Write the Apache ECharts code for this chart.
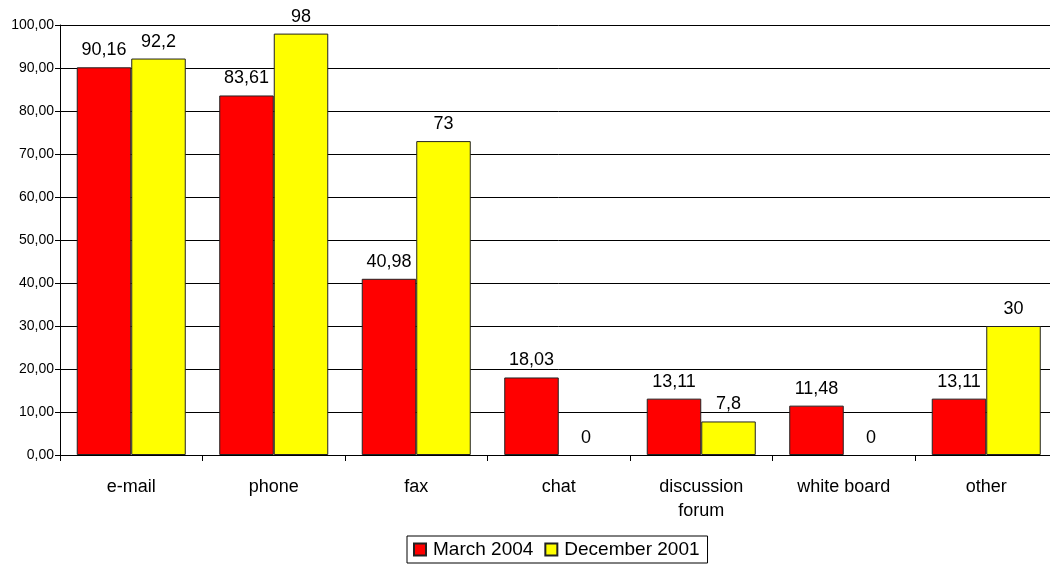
<!DOCTYPE html>
<html>
<head>
<meta charset="utf-8">
<script src="https://cdn.jsdelivr.net/npm/echarts@6/dist/echarts.min.js"></script>
<style>
  html, body { margin: 0; padding: 0; background: #fff; overflow: hidden; }
  /* plot runs slightly past the right edge of the window */
  #chart { width: 1058px; height: 565px; }
</style>
</head>
<body>
<div id="chart"></div>
<script>
// Communication channels used, two survey rounds
const categories = ['e-mail', 'phone', 'fax', 'chat', 'discussion\nforum', 'white board', 'other'];
const march2004 = [90.16, 83.61, 40.98, 18.03, 13.11, 11.48, 13.11];
const december2001 = [92.2, 98, 73, 0, 7.8, 0, 30];
const seriesNames = ['March 2004', 'December 2001'];

const FONT = '"Liberation Sans", Arial, sans-serif';
const commaNum = v => String(v).replace('.', ',');

// zero-height bars get no outline
const toItems = arr => arr.map(v => v === 0 ? { value: v, itemStyle: { borderWidth: 0 } } : v);

const chart = echarts.init(document.getElementById('chart'), null, { renderer: 'canvas' });

const barLabel = {
  show: true,
  position: 'top',
  distance: 8,
  color: '#000',
  fontFamily: FONT,
  fontSize: 18,
  formatter: p => commaNum(p.value)
};

chart.setOption({
  animation: false,
  backgroundColor: '#fff',
  grid: { left: 60, top: 25, bottom: 110, right: 0.5, containLabel: false },
  legend: {
    bottom: 2,
    left: 407,
    icon: 'rect',
    itemWidth: 12,
    itemHeight: 12,
    itemGap: 11,
    padding: [4, 8, 4, 6],
    borderColor: '#000',
    borderWidth: 1,
    textStyle: { color: '#000', fontFamily: FONT, fontSize: 19, padding: [0, 0, 0, 2] },
    data: seriesNames
  },
  xAxis: {
    type: 'category',
    data: categories,
    axisLine: { show: true, lineStyle: { color: '#000', width: 1 } },
    axisTick: { show: true, length: 6, lineStyle: { color: '#000' } },
    axisLabel: {
      color: '#000', fontFamily: FONT, fontSize: 18, margin: 20,
      lineHeight: 24, interval: 0
    }
  },
  yAxis: {
    type: 'value',
    min: 0,
    max: 100,
    interval: 10,
    axisLine: { show: true, lineStyle: { color: '#000', width: 1 } },
    axisTick: { show: true, length: 5, lineStyle: { color: '#000' } },
    axisLabel: {
      color: '#000', fontFamily: FONT, fontSize: 14, margin: 6,
      formatter: v => v.toFixed(2).replace('.', ',')
    },
    splitLine: { show: true, lineStyle: { color: '#000', width: 1 } }
  },
  series: [
    {
      name: seriesNames[0],
      type: 'bar',
      data: toItems(march2004),
      barGap: '0%',
      barCategoryGap: '23.5%',
      itemStyle: { color: '#ff0000', borderColor: '#222', borderWidth: 1 },
      label: barLabel
    },
    {
      name: seriesNames[1],
      type: 'bar',
      data: toItems(december2001),
      barGap: '0%',
      barCategoryGap: '23.5%',
      itemStyle: { color: '#ffff00', borderColor: '#222', borderWidth: 1 },
      label: barLabel
    }
  ]
});
</script>
</body>
</html>
